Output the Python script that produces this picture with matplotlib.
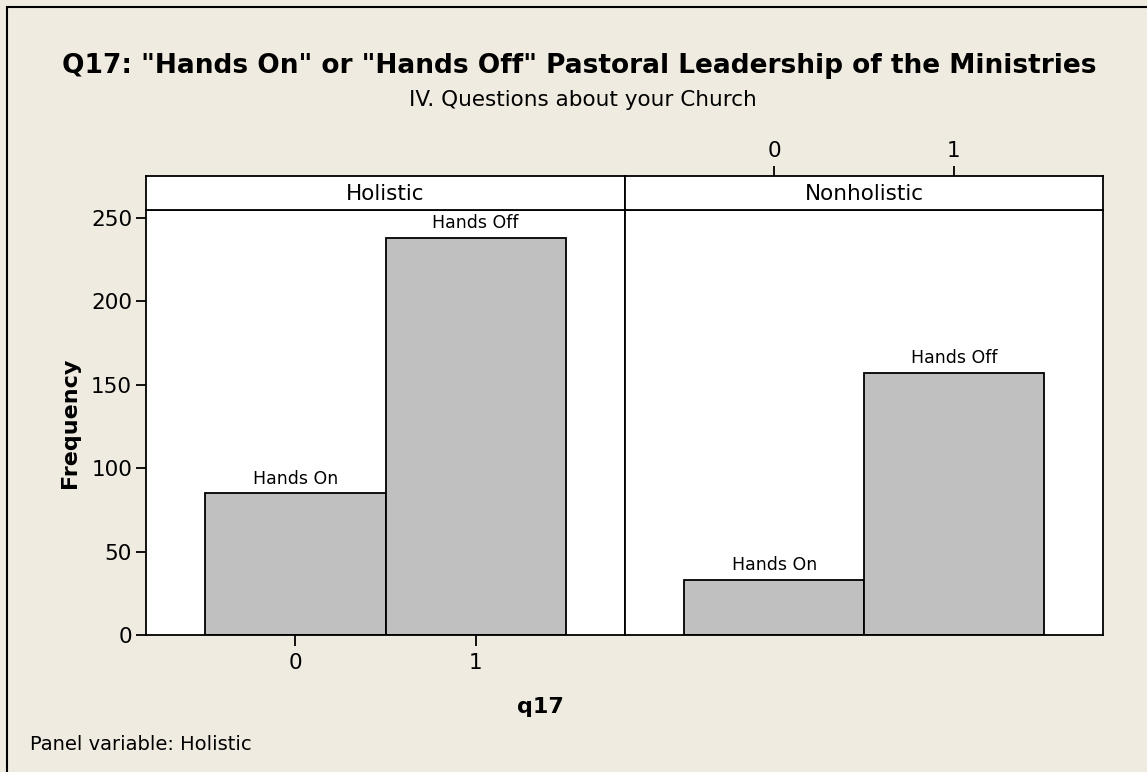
import matplotlib
matplotlib.use("Agg")
import matplotlib.pyplot as plt
from matplotlib.patches import Rectangle

# Data
panels = ["Holistic", "Nonholistic"]
q17_values = [0, 1]
bar_labels = ["Hands On", "Hands Off"]
holistic_counts = [85, 238]
nonholistic_counts = [33, 157]
y_ticks = [0, 50, 100, 150, 200, 250]

W, H = 1147, 772
bg = "#EFEBE0"
bar_color = "#C0C0C0"
plt.rcParams["font.family"] = ["DejaVu Sans"]

fig = plt.figure(figsize=(W / 100, H / 100), dpi=100, facecolor=bg)

# outer frame (top and left edges visible)
fig.add_artist(Rectangle((7 / W, -0.1), 1.2, 1 - 7 / H + 0.1, transform=fig.transFigure,
                         fill=False, ec="black", lw=1.5))

left, mid, right = 146 / W, 625 / W, 1103 / W
bottom, top = 1 - 635 / H, 1 - 210 / H
strip_top = 1 - 176 / H

ax1 = fig.add_axes([left, bottom, mid - left, top - bottom])
ax2 = fig.add_axes([mid, bottom, right - mid, top - bottom], sharey=ax1)
s1 = fig.add_axes([left, top, mid - left, strip_top - top])
s2 = fig.add_axes([mid, top, right - mid, strip_top - top])

xlim = (-0.83, 1.83)
for ax, counts in [(ax1, holistic_counts), (ax2, nonholistic_counts)]:
    bars = ax.bar(q17_values, counts, width=1.0, color=bar_color, edgecolor="black", linewidth=1.3)
    ax.bar_label(bars, labels=bar_labels, padding=4, fontsize=12.5)
    ax.set_xlim(*xlim)
    ax.set_facecolor("white")
    for sp in ax.spines.values():
        sp.set_linewidth(1.3)

ax1.set_ylim(0, 254.6)
ax1.set_yticks(y_ticks)
ax1.tick_params(axis="y", labelsize=15.5, length=7, width=1.3, pad=3)
ax1.set_xticks(q17_values)
ax1.set_xticklabels([str(v) for v in q17_values])
ax1.tick_params(axis="x", labelsize=15.5, length=8, width=1.3, pad=5)
ax1.set_ylabel("Frequency", fontsize=16, fontweight="bold", labelpad=8)
ax1.set_xlabel("q17", fontsize=16, fontweight="bold")
ax1.xaxis.set_label_coords(((540 / W) - left) / (mid - left), -0.145)

ax2.tick_params(left=False, labelleft=False, bottom=False, labelbottom=False)

for s, name in [(s1, panels[0]), (s2, panels[1])]:
    s.set_facecolor("white")
    s.set_xlim(*xlim)
    s.set_yticks([])
    s.text(0.5, 0.48, name, transform=s.transAxes, ha="center", va="center", fontsize=15.5)
    for sp in s.spines.values():
        sp.set_linewidth(1.3)

s1.set_xticks([])
s2.xaxis.tick_top()
s2.set_xticks(q17_values)
s2.set_xticklabels([str(v) for v in q17_values])
s2.tick_params(axis="x", labelsize=15.5, length=7, width=1.3, pad=4)

fig.text(0.505, 1 - 66 / H, 'Q17: "Hands On" or "Hands Off" Pastoral Leadership of the Ministries',
         ha="center", va="center", fontsize=19, fontweight="bold")
fig.text(0.508, 1 - 100 / H, "IV. Questions about your Church", ha="center", va="center", fontsize=15.5)
fig.text(30 / W, 1 - 744 / H, "Panel variable: Holistic", ha="left", va="center", fontsize=14)

fig.savefig("out.png", dpi=100, facecolor=bg)
